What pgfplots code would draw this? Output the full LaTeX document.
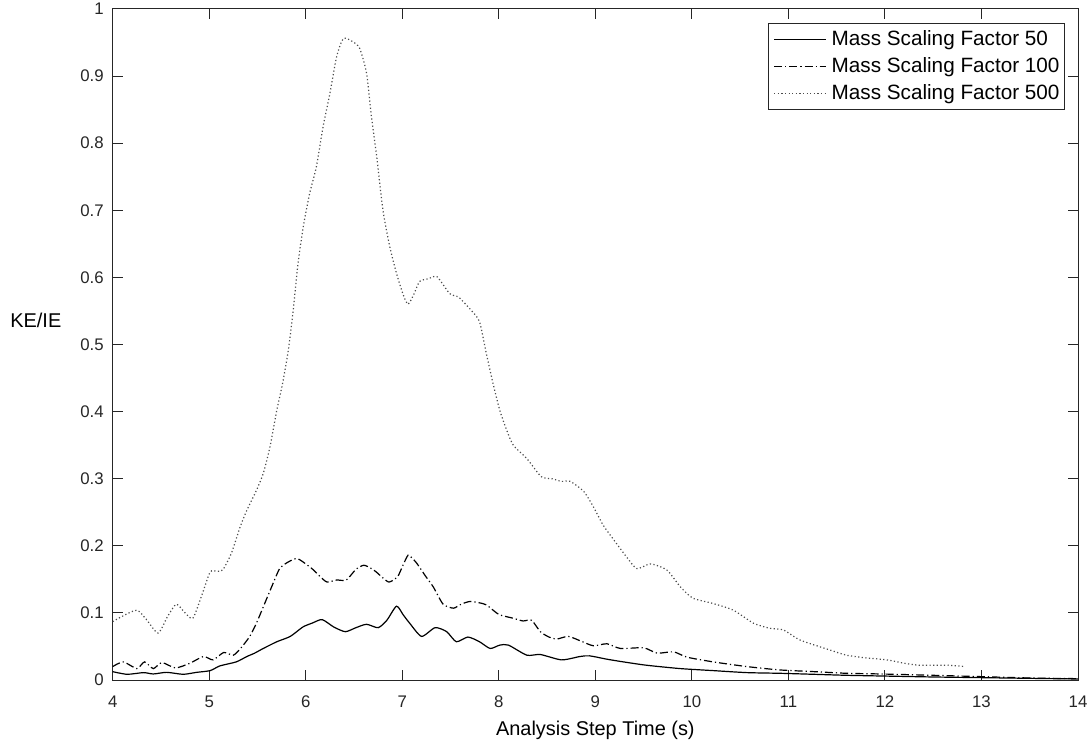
\documentclass[border=0pt]{standalone}
\usepackage{fontspec}
\setmainfont{Liberation Sans}
\usepackage{pgfplots}
\pgfplotsset{compat=1.18}
\definecolor{axgray}{HTML}{262626}

\begin{document}
\begin{tikzpicture}
\begin{axis}[
  name=ax,
  scale only axis,
  width=482.65bp, height=335.5bp,
  xmin=4, xmax=14, ymin=0, ymax=1,
  xtick={4,5,6,7,8,9,10,11,12,13,14},
  ytick={0,0.1,0.2,0.3,0.4,0.5,0.6,0.7,0.8,0.9,1},
  tick align=inside,
  tick pos=both,
  major tick length=5bp,
  minor tick num=0,
  axis line style={draw=axgray, line width=0.5bp},
  tick style={draw=axgray, line width=0.5bp},
  /pgf/number format/assume math mode=true,
  ticklabel style={font=\fontsize{8.4bp}{10bp}\selectfont, text=axgray},
  yticklabel style={inner sep=0pt, xshift=-4.3bp},
  xticklabel style={inner sep=0pt, yshift=-7.8bp},
  xlabel={Analysis Step Time (s)},
  ylabel={KE/IE},
  label style={font=\fontsize{10.35bp}{12bp}\selectfont, text=axgray},
  every axis x label/.style={at={(rel axis cs:0.5,0)}, anchor=base, yshift=-27.5bp, inner sep=0pt},
  every axis y label/.style={at={(rel axis cs:0,0.536)}, anchor=east, xshift=-25.5bp, inner sep=0pt},
  legend style={at={(rel axis cs:1,1)}, anchor=north east, xshift=-6.5bp, yshift=-7bp,
    draw=axgray, line width=0.5bp, inner xsep=2.5bp, inner ysep=3.5bp,
    font=\fontsize{10.35bp}{12bp}\selectfont,
    cells={anchor=west}, nodes={inner sep=0pt}, row sep=4.5bp,
    /tikz/every odd column/.append style={column sep=2.5bp}},
  legend image code/.code={\draw[#1] (0bp,0bp) -- (26bp,0bp);},
  every axis plot/.append style={line width=0.6bp, smooth, tension=0.4},
]
% Mass Scaling Factor 50
\addplot[black, solid] coordinates {
(4.0,0.0124)(4.15,0.0085)(4.32,0.011)(4.42,0.009)(4.56,0.0114)(4.73,0.0085)(4.87,0.0114)
(5.01,0.014)(5.11,0.021)(5.28,0.027)(5.39,0.035)(5.47,0.040)(5.56,0.047)(5.70,0.057)
(5.84,0.065)(5.97,0.079)(6.07,0.085)(6.17,0.090)(6.29,0.079)(6.41,0.072)(6.52,0.078)
(6.63,0.083)(6.75,0.078)(6.84,0.089)(6.94,0.110)(7.01,0.097)(7.08,0.084)(7.20,0.065)
(7.34,0.078)(7.46,0.072)(7.56,0.057)(7.68,0.064)(7.80,0.057)(7.91,0.047)(8.01,0.052)
(8.10,0.052)(8.29,0.037)(8.43,0.038)(8.65,0.030)(8.84,0.035)(8.94,0.036)(9.12,0.031)
(9.29,0.027)(9.53,0.022)(9.88,0.017)(10.22,0.014)(10.57,0.011)(10.91,0.010)(11.26,0.0085)
(11.60,0.007)(11.95,0.006)(12.5,0.0045)(13,0.0035)(13.5,0.0025)(14,0.0015)
};
\addlegendentry{Mass Scaling Factor 50}
% Mass Scaling Factor 100
\addplot[black, dash pattern=on 4bp off 1.5bp on 0.6bp off 1.5bp] coordinates {
(4.0,0.020)(4.11,0.027)(4.25,0.017)(4.33,0.027)(4.42,0.017)(4.51,0.026)(4.65,0.018)
(4.80,0.025)(4.94,0.035)(5.04,0.030)(5.15,0.041)(5.25,0.037)(5.33,0.048)(5.42,0.065)
(5.49,0.085)(5.56,0.109)(5.65,0.140)(5.73,0.166)(5.82,0.176)(5.91,0.181)(6.0,0.173)
(6.08,0.164)(6.15,0.154)(6.22,0.146)(6.32,0.149)(6.42,0.149)(6.52,0.165)(6.60,0.171)
(6.67,0.167)(6.73,0.161)(6.80,0.152)(6.86,0.146)(6.92,0.150)(6.96,0.156)(7.01,0.172)
(7.06,0.186)(7.10,0.182)(7.15,0.174)(7.24,0.155)(7.32,0.139)(7.38,0.123)(7.43,0.112)
(7.53,0.107)(7.61,0.113)(7.70,0.117)(7.80,0.115)(7.87,0.112)(7.95,0.103)(8.01,0.097)
(8.15,0.092)(8.25,0.088)(8.34,0.089)(8.43,0.072)(8.52,0.064)(8.60,0.061)(8.72,0.065)
(8.85,0.058)(8.98,0.051)(9.12,0.054)(9.26,0.047)(9.50,0.048)(9.64,0.040)(9.81,0.042)
(9.95,0.034)(10.22,0.027)(10.57,0.020)(10.91,0.015)(11.26,0.0125)(11.60,0.010)
(11.95,0.009)(12.5,0.007)(13,0.005)(13.5,0.003)(14,0.002)
};
\addlegendentry{Mass Scaling Factor 100}
% Mass Scaling Factor 500
\addplot[black!70, dash pattern=on 0.6bp off 1.2bp] coordinates {
(4.0,0.087)(4.1,0.095)(4.25,0.104)(4.35,0.090)(4.47,0.070)(4.57,0.095)(4.66,0.113)
(4.75,0.100)(4.83,0.092)(4.92,0.125)(5.01,0.161)(5.08,0.162)(5.14,0.164)(5.23,0.189)
(5.32,0.228)(5.39,0.253)(5.49,0.283)(5.56,0.308)(5.63,0.348)(5.70,0.402)(5.76,0.442)
(5.82,0.492)(5.87,0.551)(5.92,0.621)(5.975,0.676)(6.04,0.725)(6.11,0.765)(6.18,0.825)
(6.25,0.874)(6.32,0.929)(6.39,0.956)(6.49,0.951)(6.56,0.941)(6.63,0.904)(6.68,0.840)
(6.735,0.780)(6.80,0.700)(6.87,0.646)(6.94,0.606)(7.01,0.574)(7.06,0.560)(7.12,0.575)
(7.18,0.594)(7.27,0.598)(7.36,0.601)(7.49,0.576)(7.58,0.571)(7.63,0.564)(7.72,0.550)
(7.80,0.534)(7.87,0.487)(7.94,0.442)(8.01,0.402)(8.08,0.373)(8.15,0.350)(8.29,0.330)
(8.44,0.303)(8.55,0.300)(8.65,0.296)(8.74,0.296)(8.88,0.281)(8.98,0.258)(9.08,0.231)
(9.19,0.209)(9.32,0.184)(9.43,0.166)(9.57,0.173)(9.74,0.164)(9.88,0.139)(10.01,0.122)
(10.22,0.114)(10.43,0.104)(10.64,0.0845)(10.81,0.077)(10.95,0.0745)(11.12,0.0596)
(11.43,0.0447)(11.60,0.037)(11.80,0.033)(12.02,0.030)(12.2,0.025)(12.36,0.022)
(12.64,0.022)(12.83,0.020)
};
\addlegendentry{Mass Scaling Factor 500}
\end{axis}
\pgfresetboundingbox
\path[use as bounding box] ([shift={(-56.35bp,-31bp)}]ax.south west) rectangle ([shift={(489.15bp,340bp)}]ax.south west);
\end{tikzpicture}
\end{document}
